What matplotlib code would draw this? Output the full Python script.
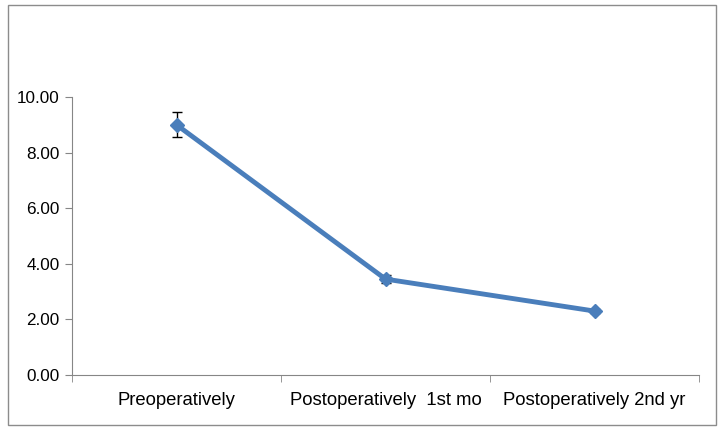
import numpy as np
import matplotlib
matplotlib.use("Agg")
import matplotlib.pyplot as plt
from matplotlib.patches import Rectangle
from matplotlib.ticker import FormatStrFormatter, FixedLocator

categories = ["Preoperatively", "Postoperatively  1st mo", "Postoperatively 2nd yr"]
means = [9.0, 3.45, 2.3]
errors = [0.45, 0.15, 0.07]

plt.rcParams["font.family"] = ["Liberation Sans", "DejaVu Sans"]

fig = plt.figure(figsize=(7.24, 4.36), dpi=100)
fig.patches.append(Rectangle((8/724, 1-425/436), 708/724, 420/436, transform=fig.transFigure,
                             fill=False, edgecolor="#8c8c8c", linewidth=1))
ax = fig.add_axes([72/724, 61/436, 627/724, 278/436])

x = np.arange(len(categories))
ax.errorbar(x, means, yerr=errors, fmt="none", ecolor="black", elinewidth=1, capsize=3.5, capthick=1, zorder=2)
ax.plot(x, means, color="#4a7ebb", linewidth=3.5, marker="D", markersize=7, zorder=3)

ax.set_xlim(-0.5, len(categories) - 0.5)
ax.set_ylim(0, 10)
ax.set_yticks(np.arange(0, 10.01, 2))
ax.yaxis.set_major_formatter(FormatStrFormatter("%.2f"))
ax.set_xticks(x)
ax.set_xticklabels(categories)
ax.xaxis.set_minor_locator(FixedLocator(np.arange(-0.5, len(categories), 1)))
ax.tick_params(axis="x", which="major", length=0, pad=12, labelsize=13.3)
ax.tick_params(axis="x", which="minor", length=5, color="#868686")
ax.tick_params(axis="y", length=5, color="#868686", labelsize=12.3, pad=4)
for s in ["top", "right"]:
    ax.spines[s].set_visible(False)
for s in ["left", "bottom"]:
    ax.spines[s].set_color("#868686")

fig.savefig("out.png", dpi=100)
